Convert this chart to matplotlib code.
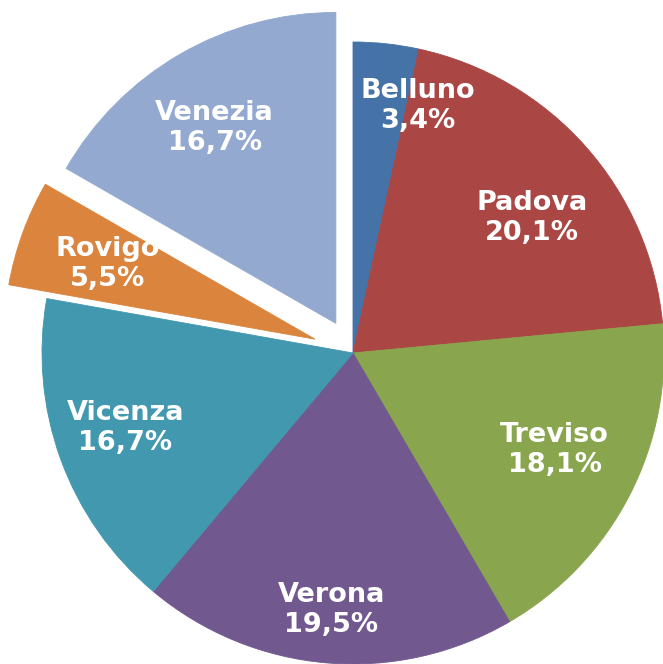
import numpy as np
import matplotlib
matplotlib.use('Agg')
import matplotlib.pyplot as plt

# Quota per provincia (Veneto)
province = ['Belluno', 'Padova', 'Treviso', 'Verona', 'Vicenza', 'Rovigo', 'Venezia']
quote = [3.4, 20.1, 18.1, 19.5, 16.7, 5.5, 16.7]
colori = ['#4572A7', '#AA4643', '#89A54E', '#71588F', '#4198AF', '#DB843D', '#93A9CF']
esploso = [0, 0, 0, 0, 0, 0.13, 0.11]

# posizione etichette: raggio e piccolo spostamento angolare (gradi)
lab_r = [0.82, 0.72, 0.72, 0.83, 0.77, 0.71, 0.74]
lab_dang = [-8.5, -4.5, 1.5, 0, -1.8, 0, 1.7]

fig = plt.figure(figsize=(6.63, 6.64), dpi=100)
ax = fig.add_axes([0, 0, 1, 1])

wedges, _ = ax.pie(quote, colors=colori, explode=esploso, startangle=90,
                   counterclock=False, radius=1, wedgeprops=dict(linewidth=0.6))
for w in wedges:
    w.set_edgecolor(w.get_facecolor())

for w, nome, q, r, da in zip(wedges, province, quote, lab_r, lab_dang):
    ang = np.deg2rad((w.theta1 + w.theta2) / 2 + da)
    cx, cy = w.center
    x = cx + r * np.cos(ang)
    y = cy + r * np.sin(ang)
    testo = '%s\n%s%%' % (nome, ('%.1f' % q).replace('.', ','))
    ax.text(x, y, testo, ha='center', va='center', color='white',
            fontsize=19.5, fontweight='bold', linespacing=1.22,
            family='DejaVu Sans')

ax.set_xlim(-353 / 311, 310 / 311)
ax.set_ylim(-311 / 311, 353 / 311)
ax.set_aspect('equal')
ax.axis('off')

fig.savefig('out.png', dpi=100)
